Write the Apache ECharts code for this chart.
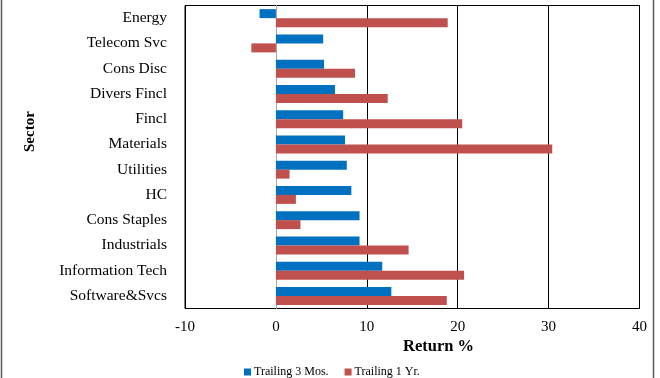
<!DOCTYPE html>
<html><head><meta charset="utf-8">
<script src="https://cdn.jsdelivr.net/npm/echarts@6/dist/echarts.min.js"></script>
<style>html,body{margin:0;padding:0;background:#fff}#c{width:660px;height:378px}</style>
</head><body><div id="c"></div>
<script>
var categories = ['Energy','Telecom Svc','Cons Disc','Divers Fincl','Fincl','Materials','Utilities','HC','Cons Staples','Industrials','Information Tech','Software&Svcs'];
var trailing3Mos = [-1.8, 5.2, 5.3, 6.5, 7.4, 7.6, 7.8, 8.3, 9.2, 9.2, 11.7, 12.7];
var trailing1Yr = [18.9, -2.7, 8.7, 12.3, 20.5, 30.4, 1.5, 2.2, 2.7, 14.6, 20.7, 18.8];
var seriesNames = ['Trailing 3 Mos.', 'Trailing 1 Yr.'];
var xTicks = {min: -10, max: 40, interval: 10};

var font = '"Liberation Serif", "Times New Roman", serif';
var chart = echarts.init(document.getElementById('c'));
chart.setOption({
  animation: false,
  backgroundColor: '#fff',
  grid: {left: 185, right: 20.5, top: 5.5, bottom: 69.5, show: true, borderColor: '#000', borderWidth: 1, containLabel: false},
  legend: {
    data: seriesNames, left: 244, top: 366, padding: 0, itemWidth: 7, itemHeight: 7, itemGap: 16,
    icon: 'rect', textStyle: {fontFamily: font, fontSize: 12, color: '#000', padding: [0, 0, 0, -2]}
  },
  xAxis: {
    type: 'value', min: xTicks.min, max: xTicks.max, interval: xTicks.interval,
    axisLine: {show: false}, axisTick: {show: false},
    axisLabel: {fontFamily: font, fontSize: 15, color: '#000', margin: 11},
    splitLine: {show: true, lineStyle: {color: '#000', width: 1}}
  },
  yAxis: {
    type: 'category', data: categories, inverse: true,
    axisLine: {show: true, onZero: true, lineStyle: {color: '#a6a6a6', width: 1}},
    axisTick: {show: false},
    axisLabel: {fontFamily: font, fontSize: 15.5, color: '#000', margin: 18},
    splitLine: {show: false}
  },
  series: [
    {name: seriesNames[0], type: 'bar', data: trailing3Mos, barWidth: 9, barGap: '0%', itemStyle: {color: '#0070C0'}},
    {name: seriesNames[1], type: 'bar', data: trailing1Yr, barWidth: 9, barGap: '0%', itemStyle: {color: '#C0504D'}}
  ],
  graphic: [
    {type: 'text', left: 403, top: 338, style: {text: 'Return %', font: 'bold 16.5px ' + font, fill: '#000'}},
    {type: 'text', x: 23, y: 152, rotation: Math.PI / 2, style: {text: 'Sector', font: 'bold 15px ' + font, fill: '#000'}},
    {type: 'line', shape: {x1: 1.5, y1: 0, x2: 1.5, y2: 378}, style: {stroke: '#595959', lineWidth: 1.5}},
    {type: 'line', shape: {x1: 653.5, y1: 0, x2: 653.5, y2: 378}, style: {stroke: '#595959', lineWidth: 1.5}}
  ]
});
</script></body></html>
